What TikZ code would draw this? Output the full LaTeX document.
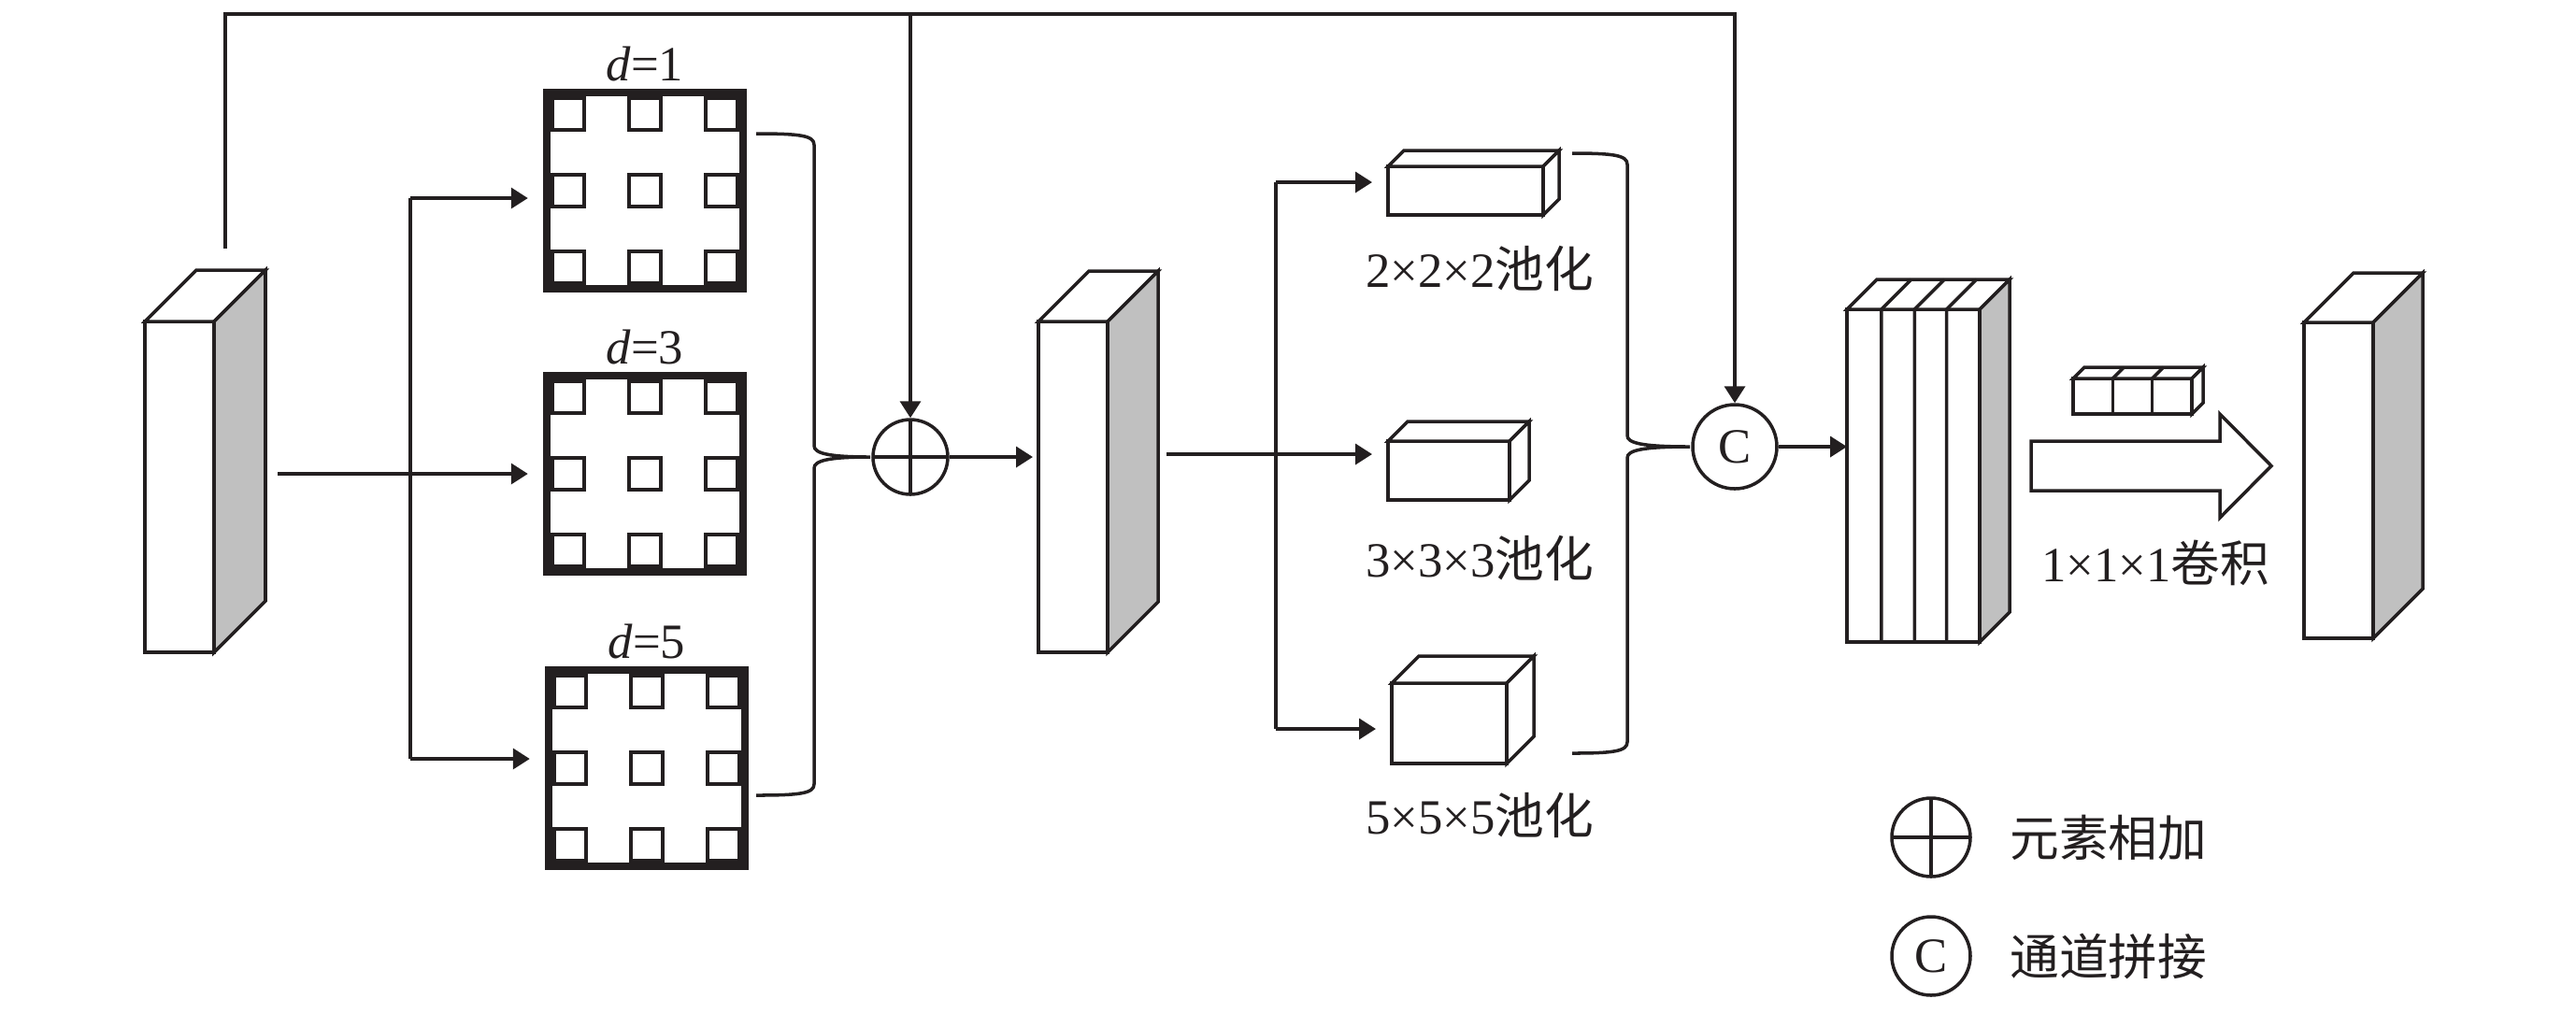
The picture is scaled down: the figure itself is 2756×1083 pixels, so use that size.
\documentclass[tikz,border=0pt]{standalone}
\usepackage{fontspec}
\setmainfont{Liberation Serif}
\newfontfamily\cjk{Noto Sans CJK SC}
\usetikzlibrary{arrows.meta,positioning,calc}
\definecolor{ink}{RGB}{35,31,32}
\definecolor{sidegray}{RGB}{192,192,192}

% cuboid: front face is the node, top and right faces hang off its corners
\newcommand{\cuboid}[5][sidegray]{%
  \node[face, #4] (#2) at (#3) {};
  \draw[fill=white] (#2.north west) -- ++(#5,-#5) -- ([shift={(#5,-#5)}]#2.north east) -- (#2.north east) -- cycle;
  \draw[fill=#1] (#2.north east) -- ++(#5,-#5) -- ([shift={(#5,-#5)}]#2.south east) -- (#2.south east) -- cycle;
}
% dilated kernel: thick frame with a 3x3 grid of small cells
\newcommand{\kernel}[2]{%
  \node[kern] (#1) at (#2) {};
  \foreach \i in {-1,0,1}
    \foreach \j in {-1,0,1}
      \draw[fill=white] ([shift={({\i*82-17},{\j*82-17})}]#1.center) rectangle ++(34,34);
}
% brace: end x, spine x, top y, bottom y, tip x, tip y
\newcommand{\mergebrace}[6]{%
  \draw (#1,#3) .. controls ({#2-15},#3) and (#2,{#3+2}) .. (#2,{#3+12})
    -- (#2,{#6-12}) .. controls (#2,{#6-4}) and ({#2+15},#6) .. (#5,#6)
    .. controls ({#2+15},#6) and (#2,{#6+4}) .. (#2,{#6+12})
    -- (#2,{#4-12}) .. controls (#2,{#4-2}) and ({#2-15},#4) .. (#1,#4);
}

\begin{document}
\begin{tikzpicture}[x=0.1mm, y=-0.1mm, line width=1pt, color=ink,
    every node/.style={font=\fontsize{15pt}{18pt}\selectfont},
    face/.style={draw, fill=white, inner sep=0pt, outer sep=0pt},
    kern/.style={draw, fill=white, line width=2.4pt, minimum size=21mm, inner sep=0pt},
    lbl/.style={inner sep=0pt},
    addop/.style={draw, circle, fill=white, minimum size=8mm, inner sep=0pt,
      path picture={\draw (path picture bounding box.north) -- (path picture bounding box.south)
        (path picture bounding box.west) -- (path picture bounding box.east);}},
    catop/.style={draw, circle, fill=white, minimum size=9mm, inner sep=0pt},
    arr/.style={-{Triangle[length=1.8mm,width=2.2mm]}}]
  \useasboundingbox (0,0) rectangle (2756,1083);

  % Input feature map
  \cuboid{in}{192,521}{minimum width=7.4mm, minimum height=35.4mm}{55}

  % Dilated convolutions
  \kernel{k1}{690,204}
  \kernel{k2}{690,507}
  \kernel{k3}{692,822}
  \node[lbl, above=0.6mm of k1] (d1) {{\itshape d}=1};
  \node[lbl, above=0.6mm of k2] (d3) {{\itshape d}=3};
  \node[lbl, above=0.6mm of k3] (d5) {{\itshape d}=5};

  \coordinate (inout) at (297,507);
  \coordinate (b1top) at (439,212);
  \coordinate (b1bot) at (439,812);
  \draw[arr, shorten >=1.6mm] (inout) -- (inout -| k2.west);
  \draw (b1top) -- (b1bot);
  \draw[arr, shorten >=1.6mm] (b1top) -- (b1top -| k1.west);
  \draw[arr, shorten >=1.6mm] (b1bot) -- (b1bot -| k3.west);

  % Element-wise sum
  \node[addop] (add) at (974,489) {};
  \mergebrace{809}{871}{143}{851}{931}{489}

  % Middle feature map
  \cuboid{mid}{1148,521}{minimum width=7.4mm, minimum height=35.4mm}{54}
  \draw[arr, shorten >=0.6mm] (add.east) -- (add.east -| mid.west);

  % Pooling branches
  \cuboid[white]{p1}{1568,204}{minimum width=16.6mm, minimum height=5.2mm}{17}
  \cuboid[white]{p2}{1550,503.5}{minimum width=13mm, minimum height=6.3mm}{21}
  \cuboid[white]{p3}{1550.5,774}{minimum width=12.3mm, minimum height=8.6mm}{29}
  \node[lbl] (p1txt) at (1583,287) {2×2×2{\cjk 池化}};
  \node[lbl] (p2txt) at (1583,597) {3×3×3{\cjk 池化}};
  \node[lbl] (p3txt) at (1583,872) {5×5×5{\cjk 池化}};

  \coordinate (midout) at (1248,486);
  \coordinate (b2top) at (1365,195);
  \coordinate (b2bot) at (1365,780);
  \draw[arr, shorten >=1.7mm] (midout) -- (midout -| p2.west);
  \draw (b2top) -- (b2bot);
  \draw[arr, shorten >=1.7mm] (b2top) -- (b2top -| p1.west);
  \draw[arr, shorten >=1.7mm] (b2bot) -- (b2bot -| p3.west);

  % Channel concatenation
  \node[catop] (cc) at (1856,478) {C};
  \mergebrace{1682}{1741}{164}{806}{1808}{478}

  % Concatenated feature map
  \cuboid{cat}{2047,509}{minimum width=14.2mm, minimum height=35.6mm}{32}
  \foreach \k in {0.26,0.51,0.75} {
    \coordinate (s) at ($(cat.north west)!\k!(cat.north east)$);
    \draw (s) -- (s |- cat.south) (s) -- ++(32,-32);
  }
  \draw[arr] (cc.east) -- (cc.east -| cat.west);

  % Skip connection
  \coordinate (skip) at (241,266);
  \coordinate (top) at (241,15);
  \draw[arr] (skip) -- (top) -| (cc.north);
  \draw[arr] (top -| add) -- (add.north);

  % 1x1x1 convolution
  \foreach \i in {0,1,2}
    \draw[fill=white] ({2218+\i*42.33},405) rectangle ++(42.33,38);
  \draw[fill=white] (2218,405) -- ++(12,-12) -- (2357,393) -- (2345,405) -- cycle;
  \draw[fill=white] (2345,405) -- (2357,393) -- (2357,431) -- (2345,443) -- cycle;
  \foreach \i in {1,2}
    \draw ({2218+\i*42.33},405) -- ++(12,-12);
  \draw[fill=white] (2173,472) -- (2375,472) -- (2375,443) -- (2430,498.5)
    -- (2375,554) -- (2375,525) -- (2173,525) -- cycle;
  \node[lbl] (convtxt) at (2306,602) {1×1×1{\cjk 卷积}};

  % Output feature map
  \cuboid{out}{2502,514}{minimum width=7.4mm, minimum height=33.8mm}{53}

  % Legend
  \node[addop, minimum size=8.4mm] (legadd) at (2066,896) {};
  \node[lbl, right=3.9mm of legadd] (legaddtxt) {\cjk 元素相加};
  \node[catop, minimum size=8.4mm] (legcat) at (2066,1023) {C};
  \node[lbl, right=3.9mm of legcat] (legcattxt) {\cjk 通道拼接};
\end{tikzpicture}
\end{document}
